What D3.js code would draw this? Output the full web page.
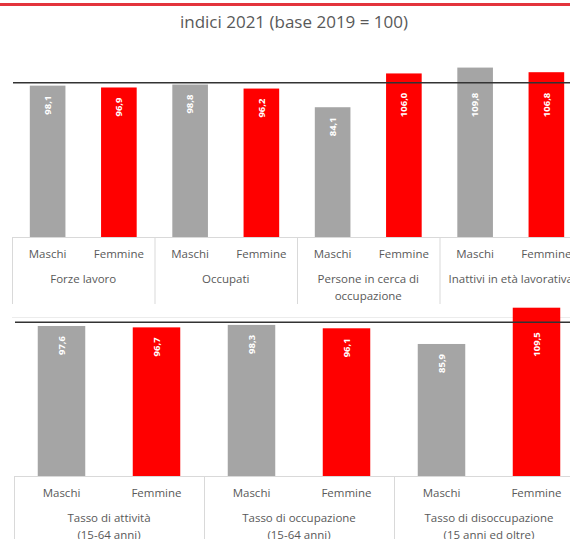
<!DOCTYPE html>
<html>
<head>
<meta charset="utf-8">
<script src="https://cdn.jsdelivr.net/npm/d3@7"></script>
<style>
  body { margin: 0; background: #fff; }
  svg { display: block; font-family: "Open Sans", sans-serif; }
</style>
</head>
<body>
<div id="chart"></div>
<script>
// data
var sexLabels = ["Maschi", "Femmine"];
var topGroups = [["Forze lavoro"], ["Occupati"], ["Persone in cerca di", "occupazione"], ["Inattivi in età lavorativa"]];
var topMaschi = [98.1, 98.8, 84.1, 109.8];
var topFemmine = [96.9, 96.2, 106.0, 106.8];
var bottomGroups = [["Tasso di attività", "(15-64 anni)"], ["Tasso di occupazione", "(15-64 anni)"], ["Tasso di disoccupazione", "(15 anni ed oltre)"]];
var bottomMaschi = [97.6, 98.3, 85.9];
var bottomFemmine = [96.7, 96.1, 109.5];
var baseValue = 100;
var title = "indici 2021 (base 2019 = 100)";

var colors = { Maschi: "#a5a5a5", Femmine: "#ff0000" };
var fmt = function(v) { return d3.format(".1f")(v).replace(".", ","); };

var svg = d3.select("#chart").append("svg")
  .attr("width", 570)
  .attr("height", 539);

// red rule on top
svg.append("rect")
  .attr("x", 0).attr("y", 3)
  .attr("width", 570).attr("height", 3)
  .attr("fill", "#e3343c");

svg.append("text")
  .attr("x", 294)
  .attr("y", 28)
  .attr("text-anchor", "middle")
  .attr("font-size", 17)
  .attr("fill", "#595959")
  .text(title);

var drawPanel = function(groups, maschi, femmine, opt) {
  var rows = [];
  groups.forEach(function(g, i) {
    rows.push({ key: i + "M", sex: sexLabels[0], v: maschi[i] });
    rows.push({ key: i + "F", sex: sexLabels[1], v: femmine[i] });
  });

  var x = d3.scaleBand()
    .domain(rows.map(function(d) { return d.key; }))
    .range([opt.x0, opt.x1])
    .paddingInner(0.5)
    .paddingOuter(0.25);

  var gx = d3.scaleBand()
    .domain(groups.map(function(d, i) { return i; }))
    .range([opt.x0, opt.x1]);

  var y = d3.scaleLinear()
    .domain([0, baseValue])
    .range([opt.bottom, opt.lineY]);

  var g = svg.append("g");

  // category axis frame
  g.append("line")
    .attr("x1", opt.x0).attr("x2", 570)
    .attr("y1", opt.bottom + 0.5).attr("y2", opt.bottom + 0.5)
    .attr("stroke", "#d9d9d9");

  groups.forEach(function(d, i) {
    g.append("line")
      .attr("x1", gx(i) + 0.5).attr("x2", gx(i) + 0.5)
      .attr("y1", opt.bottom).attr("y2", opt.sepEnd)
      .attr("stroke", "#d9d9d9");
  });

  g.selectAll("rect.bar")
    .data(rows)
    .enter().append("rect")
    .attr("class", "bar")
    .attr("x", function(d) { return x(d.key); })
    .attr("width", x.bandwidth())
    .attr("y", function(d) { return y(d.v); })
    .attr("height", function(d) { return opt.bottom - y(d.v); })
    .attr("fill", function(d) { return colors[d.sex]; });

  // base 100 line
  g.append("line")
    .attr("x1", opt.lineX0).attr("x2", 570)
    .attr("y1", y(baseValue)).attr("y2", y(baseValue))
    .attr("stroke", "#333")
    .attr("stroke-width", 1.5);

  g.selectAll("text.val")
    .data(rows)
    .enter().append("text")
    .attr("class", "val")
    .attr("transform", function(d) {
      var cx = x(d.key) + x.bandwidth() / 2;
      var ty = Math.max(y(d.v), y(baseValue)) + 10;
      return "translate(" + cx + "," + ty + ") rotate(-90)";
    })
    .attr("dy", "0.35em")
    .attr("text-anchor", "end")
    .attr("font-size", 9.5)
    .attr("font-weight", "bold")
    .attr("fill", "#fff")
    .text(function(d) { return fmt(d.v); });

  g.selectAll("text.sex")
    .data(rows)
    .enter().append("text")
    .attr("class", "sex")
    .attr("x", function(d) { return x(d.key) + x.bandwidth() / 2; })
    .attr("y", opt.bottom + 21)
    .attr("text-anchor", "middle")
    .attr("font-size", 11.5)
    .attr("fill", "#595959")
    .text(function(d) { return d.sex; });

  groups.forEach(function(lines, i) {
    var t = g.append("text")
      .attr("x", gx(i) + gx.bandwidth() / 2)
      .attr("y", opt.bottom + 46)
      .attr("text-anchor", "middle")
      .attr("font-size", 11.5)
      .attr("fill", "#595959");
    lines.forEach(function(s, j) {
      t.append("tspan")
        .attr("x", gx(i) + gx.bandwidth() / 2)
        .attr("dy", j === 0 ? 0 : 17)
        .text(s);
    });
  });
};

drawPanel(topGroups, topMaschi, topFemmine, {
  x0: 12, x1: 582, bottom: 237, lineY: 82.7, lineX0: 13, sepEnd: 304
});

// faint frame line between panels
svg.append("line")
  .attr("x1", 12).attr("x2", 570)
  .attr("y1", 317.5).attr("y2", 317.5)
  .attr("stroke", "#ececec");

drawPanel(bottomGroups, bottomMaschi, bottomFemmine, {
  x0: 14, x1: 584, bottom: 476, lineY: 322.3, lineX0: 15, sepEnd: 539
});
</script>
</body>
</html>
